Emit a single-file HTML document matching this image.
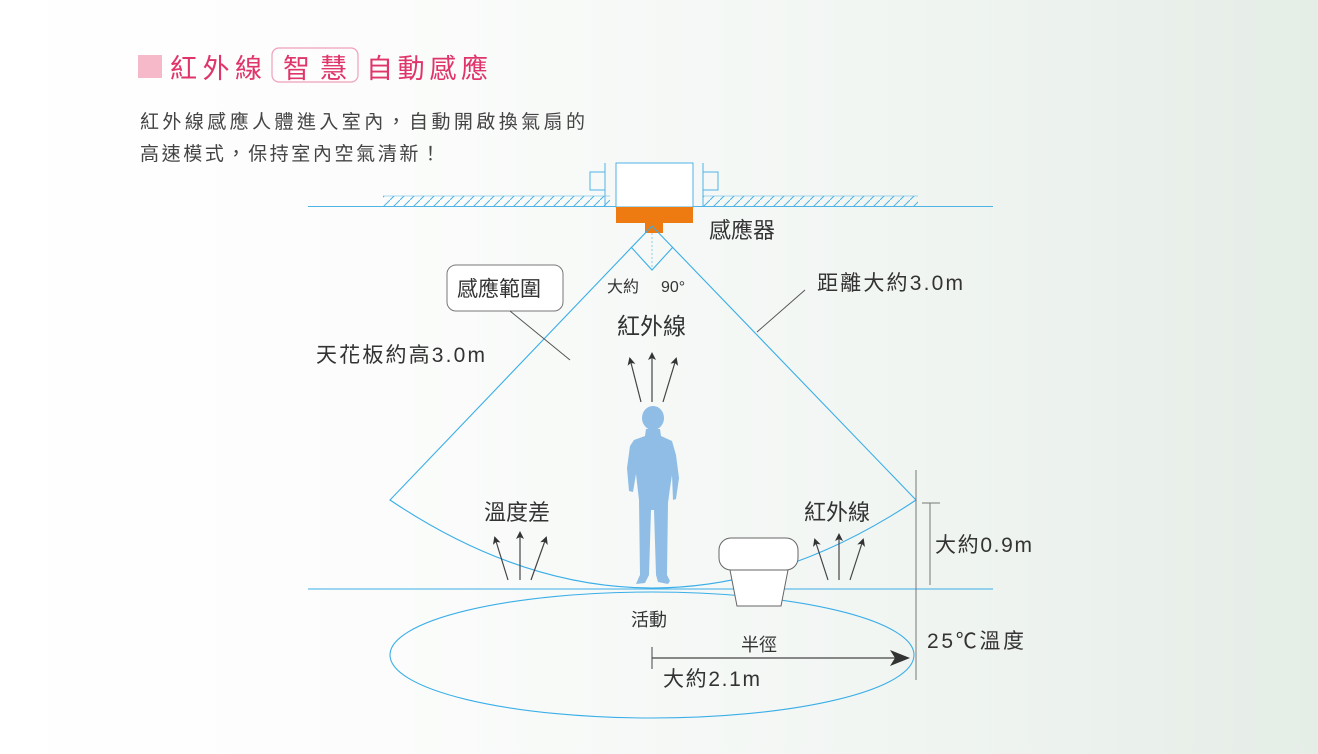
<!DOCTYPE html>
<html><head><meta charset="utf-8"><style>
html,body{margin:0;padding:0}
body{width:1318px;height:749px;overflow:hidden;background:linear-gradient(90deg,#ffffff 0%,#fbfcfb 30%,#f2f6f3 65%,#e5ede7 100%);font-family:"Liberation Sans","Noto Sans CJK TC",sans-serif}
svg text{font-family:"Liberation Sans","Noto Sans CJK TC",sans-serif}
</style></head><body>
<svg width="1318" height="749" viewBox="0 0 1318 749" xmlns="http://www.w3.org/2000/svg">
<defs>
<pattern id="h" width="10" height="10" patternUnits="userSpaceOnUse">
<line x1="0" y1="10" x2="10" y2="0" stroke="#4fb3e6" stroke-width="1"/>
</pattern>
<marker id="ah" markerWidth="8" markerHeight="8" refX="6" refY="4" orient="auto" markerUnits="userSpaceOnUse"><path d="M0,0 L8,4 L0,8 L2,4Z" fill="#333"/></marker>
<marker id="ab" markerWidth="20" markerHeight="16" refX="18" refY="8" orient="auto" markerUnits="userSpaceOnUse"><path d="M0,0 L20,8 L0,16 L5,8Z" fill="#333"/></marker>
</defs>
<!-- title -->
<rect x="138" y="55" width="24" height="23" fill="#f5b9c9"/>
<text x="170" y="78" font-size="27" fill="#e0356a" textLength="92">紅外線</text>
<rect x="272" y="48" width="86" height="34" rx="7" fill="none" stroke="#f0a0b8" stroke-width="1.2"/>
<text x="283" y="78" font-size="27" fill="#e0356a" textLength="64">智慧</text>
<text x="366" y="78" font-size="27" fill="#e0356a" textLength="122">自動感應</text>
<text x="140" y="128" font-size="19" fill="#444" textLength="445">紅外線感應人體進入室內，自動開啟換氣扇的</text>
<text x="140" y="160" font-size="19" fill="#444" textLength="300">高速模式，保持室內空氣清新！</text>
<!-- ceiling -->
<rect x="383" y="196" width="227" height="10" fill="url(#h)"/>
<rect x="703" y="196" width="215" height="10" fill="url(#h)"/>
<line x1="308" y1="206.5" x2="993" y2="206.5" stroke="#4fb3e6" stroke-width="1"/>
<line x1="383" y1="196" x2="610" y2="196" stroke="#4fb3e6" stroke-width="0.6"/>
<line x1="703" y1="196" x2="918" y2="196" stroke="#4fb3e6" stroke-width="0.6"/>
<rect x="590" y="172" width="15" height="18" fill="none" stroke="#4fb3e6"/>
<rect x="703" y="172" width="15" height="18" fill="none" stroke="#4fb3e6"/>
<line x1="605" y1="163" x2="605" y2="206" stroke="#4fb3e6"/>
<line x1="703" y1="163" x2="703" y2="206" stroke="#4fb3e6"/>
<rect x="616" y="163" width="77" height="44" fill="#fff" stroke="#4fb3e6"/>
<rect x="616" y="207" width="77" height="16" fill="#ee7a12"/>
<rect x="645" y="223" width="18" height="10" fill="#ee7a12"/>
<!-- cone -->
<line x1="652" y1="233" x2="652" y2="270" stroke="#8fcdee" stroke-dasharray="2,2"/>
<path d="M652,226 L390,500 Q652,676 916,500 Z" fill="none" stroke="#3aaee8" stroke-width="1.1"/>
<path d="M631,247 L652,270 L673,247" fill="none" stroke="#3aaee8" stroke-width="1.1"/>
<!-- floor & ellipse -->
<line x1="308" y1="589" x2="993" y2="589" stroke="#3aaee8" stroke-width="1"/>
<ellipse cx="652" cy="655" rx="262" ry="63" fill="none" stroke="#3aaee8" stroke-width="1.1"/>
<line x1="916" y1="470" x2="916" y2="680" stroke="#777" stroke-width="1"/>
<line x1="930" y1="503" x2="930" y2="585" stroke="#777"/>
<line x1="922" y1="503" x2="940" y2="503" stroke="#777"/>
<!-- leaders -->
<rect x="447" y="265" width="116" height="46" rx="9" fill="#fff" stroke="#777"/>
<line x1="510" y1="311" x2="570" y2="360" stroke="#555"/>
<line x1="805" y1="290" x2="757" y2="332" stroke="#555"/>
<!-- labels -->
<g fill="#333">
<text x="709" y="238" font-size="22">感應器</text>
<text x="457" y="296" font-size="21">感應範圍</text>
<text x="607" y="292" font-size="16">大約</text>
<text x="661" y="292" font-size="16">90°</text>
<text x="817" y="290" font-size="21" textLength="146">距離大約3.0m</text>
<text x="617" y="334" font-size="23">紅外線</text>
<text x="316" y="362" font-size="21" textLength="169">天花板約高3.0m</text>
<text x="484" y="520" font-size="22">溫度差</text>
<text x="804" y="520" font-size="22">紅外線</text>
<text x="935" y="552" font-size="21" textLength="97">大約0.9m</text>
<text x="631" y="626" font-size="18">活動</text>
<text x="741" y="651" font-size="18">半徑</text>
<text x="663" y="686" font-size="21" textLength="97">大約2.1m</text>
<text x="927" y="648" font-size="21" textLength="97">25℃溫度</text>
</g>
<!-- arrows -->
<g stroke="#444" stroke-width="1.2" fill="none" marker-end="url(#ah)">
<line x1="641" y1="402" x2="630" y2="359"/>
<line x1="652" y1="402" x2="652" y2="354"/>
<line x1="663" y1="402" x2="676" y2="359"/>
<line x1="508" y1="580" x2="495" y2="538"/>
<line x1="520" y1="580" x2="520" y2="533"/>
<line x1="531" y1="580" x2="546" y2="538"/>
<line x1="828" y1="580" x2="815" y2="540"/>
<line x1="839" y1="580" x2="839" y2="535"/>
<line x1="850" y1="580" x2="863" y2="540"/>
</g>
<line x1="652" y1="647" x2="652" y2="669" stroke="#444"/>
<line x1="652" y1="658" x2="908" y2="658" stroke="#444" stroke-width="1.2" marker-end="url(#ab)"/>
<!-- planter -->
<path d="M730,570 L788,570 L781,606 L737,606 Z" fill="#fff" stroke="#666"/>
<rect x="719" y="538" width="79" height="32" rx="12" fill="#fff" stroke="#666"/>
<!-- person -->
<g fill="#8fbde6">
<ellipse cx="653" cy="418" rx="11" ry="12"/>
<path d="M646,429 L660,429 L661,436 L672,441 L676,455 L679,478 L676,499 L673,500 L672,475 L670,488 L668,503 L667,575 L670,581 L668,584 L658,582 L656,575 L654,510 L651,510 L649,575 L645,583 L636,584 L639,577 L640,575 L639,500 L636,474 L633,492 L629,491 L627,468 L630,446 L634,440 L645,436 Z"/>
</g>
</svg>
</body></html>
